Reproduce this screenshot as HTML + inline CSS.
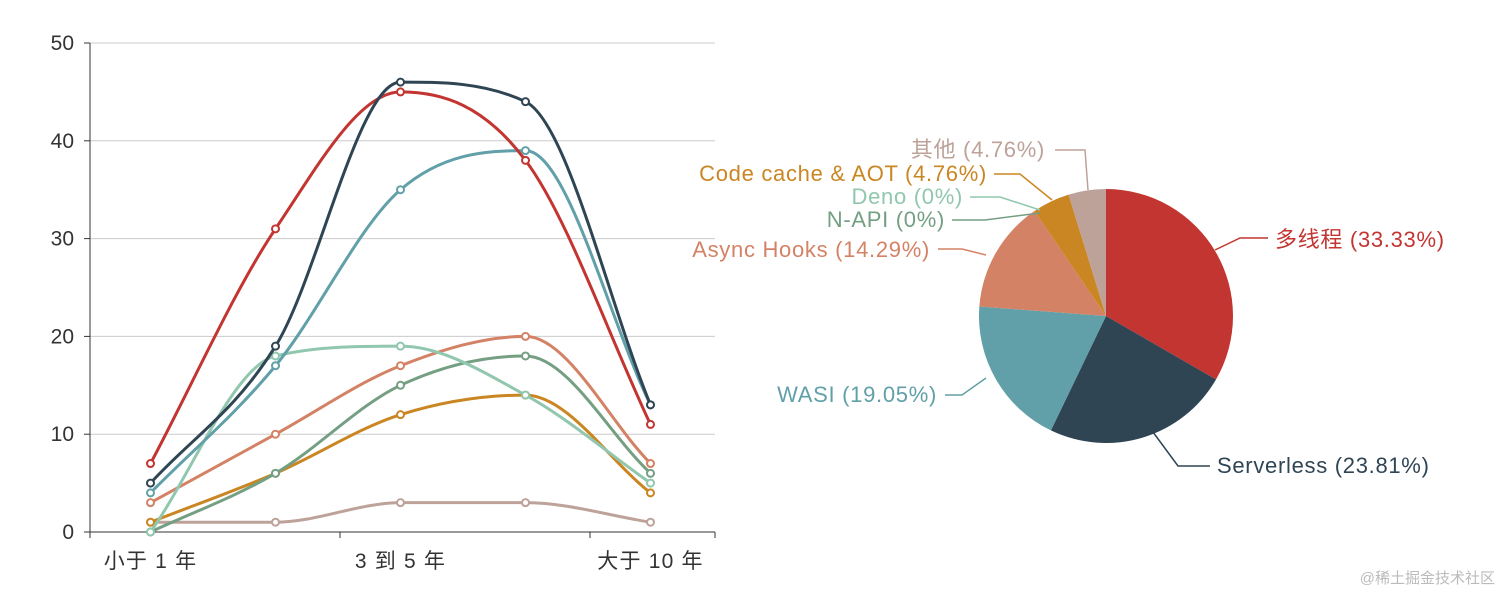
<!DOCTYPE html>
<html><head><meta charset="utf-8">
<style>
body{margin:0;background:#fff;width:1512px;height:605px;overflow:hidden;font-family:"Liberation Sans","Noto Sans CJK SC",sans-serif}
svg text{font-family:"Liberation Sans","Noto Sans CJK SC",sans-serif}
</style></head>
<body>
<svg id="c" width="1512" height="605"></svg>
<script>
const categories=["小于 1 年","1 到 3 年","3 到 5 年","5 到 10 年","大于 10 年"];
const yTicks=[0,10,20,30,40,50];
const s1=[7,31,45,38,11];
const s2=[5,19,46,44,13];
const s3=[4,17,35,39,13];
const s4=[0,18,19,14,5];
const s5=[3,10,17,20,7];
const s6=[0,6,15,18,6];
const s7=[1,6,12,14,4];
const s8=[1,1,3,3,1];
const pieNames=["多线程","Serverless","WASI","Async Hooks","N-API","Deno","Code cache & AOT","其他"];
const pieValues=[33.33,23.81,19.05,14.29,0,0,4.76,4.76];
const colors=["#c23531","#2f4554","#61a0a8","#d48265","#749f83","#91c7ae","#ca8622","#bda29a"];
const lineColors=["#c23531","#2f4554","#61a0a8","#91c7ae","#d48265","#749f83","#ca8622","#bda29a"];
const NS="http://www.w3.org/2000/svg";
const svg=document.getElementById('c');
function el(t,a,p){const e=document.createElementNS(NS,t);for(const k in a)e.setAttribute(k,a[k]);(p||svg).appendChild(e);return e;}
const x0=90,x1=715,y0=532,y1=43;
const xs=i=>x0+(x1-x0)/categories.length*(i+0.5)-2;
const ys=v=>y0-(y0-y1)*v/50;
yTicks.forEach(t=>{
 if(t>0){const g=el('line',{x1:x0,x2:x1,y1:ys(t),y2:ys(t),stroke:'#ccc','stroke-width':1});}
 const tk=el('line',{x1:x0-6,x2:x0,y1:ys(t),y2:ys(t),stroke:'#333'});
 
 const tx=el('text',{x:x0-16,y:ys(t)+7,'text-anchor':'end','font-size':21,fill:'#333'});tx.textContent=t;
 
});
const ya=el('line',{x1:x0,x2:x0,y1:y1,y2:y0,stroke:'#333'});
const xa=el('line',{x1:x0,x2:x1,y1:y0,y2:y0,stroke:'#333'});
for(let i=0;i<=categories.length;i+=2){const xx=x0+(x1-x0)/categories.length*i;
 const tk=el('line',{x1:xx,x2:xx,y1:y0,y2:y0+6,stroke:'#333'});}
el('line',{x1:x1,x2:x1,y1:y0,y2:y0+6,stroke:'#333'});
categories.forEach((c,i)=>{if(i%2)return;const t=el('text',{x:xs(i),y:y0+36,'text-anchor':'middle','font-size':21,'letter-spacing':1.2,fill:'#333'});t.textContent=c;
 });
const series=[s1,s2,s3,s4,s5,s6,s7,s8];
function smooth(p){const n=p.length;const dl=[],m=[];
 for(let i=0;i<n-1;i++)dl.push((p[i+1][1]-p[i][1])/(p[i+1][0]-p[i][0]));
 for(let i=0;i<n;i++){if(i==0)m.push(dl[0]);else if(i==n-1)m.push(dl[n-2]);else m.push(dl[i-1]*dl[i]<=0?0:(dl[i-1]+dl[i])/2);}
 for(let i=0;i<n-1;i++){if(dl[i]==0){m[i]=0;m[i+1]=0;continue;}const a=m[i]/dl[i],b=m[i+1]/dl[i];const s=a*a+b*b;if(s>9){const t=3/Math.sqrt(s);m[i]=t*a*dl[i];m[i+1]=t*b*dl[i];}}
 let d=`M${p[0][0]},${p[0][1]}`;
 for(let i=0;i<n-1;i++){const h=(p[i+1][0]-p[i][0])/3;
  d+=`C${p[i][0]+h},${p[i][1]+m[i]*h} ${p[i+1][0]-h},${p[i+1][1]-m[i+1]*h} ${p[i+1][0]},${p[i+1][1]}`;}
 return d;}
[7,6,5,4,3,2,0,1].forEach(si=>{const s=series[si];const pts=s.map((v,i)=>[xs(i),ys(v)]);
 const p=el('path',{d:smooth(pts),fill:'none',stroke:lineColors[si],'stroke-width':3});
 
 pts.forEach(q=>{const c=el('circle',{cx:q[0],cy:q[1],r:3.5,fill:'#fff',stroke:lineColors[si],'stroke-width':2});
  });});
const cx=1106,cy=316,R=127;const tot=pieValues.reduce((a,b)=>a+b,0);let a=-Math.PI/2;
pieValues.forEach((v,i)=>{const da=v/tot*Math.PI*2;if(da<=0)return;const a2=a+da;
 const d=`M${cx},${cy}L${cx+R*Math.cos(a)},${cy+R*Math.sin(a)}A${R},${R} 0 ${da>Math.PI?1:0} 1 ${cx+R*Math.cos(a2)},${cy+R*Math.sin(a2)}Z`;
 const p=el('path',{d,fill:colors[i]});a=a2;});
const labels=[
 [0,'1275','247','start','M1215,250L1240,238L1268,238'],
 [1,'1217','473','start','M1150,428L1178,466L1210,466'],
 [2,'937','402','end','M986,378L962,395L945,395'],
 [3,'930','257','end','M986,255L962,249L938,249'],
 [4,'945','227','end','M1040,213L985,220L952,220'],
 [5,'963','204','end','M1040,210L1000,197L970,197'],
 [6,'987','181','end','M1052,200L1020,174L994,174'],
 [7,'1045','157','end','M1088,190L1085,150L1055,150']];
labels.forEach(l=>{const i=l[0];const ln=el('path',{d:l[4],fill:'none',stroke:colors[i],'stroke-width':1.5});
 
 const t=el('text',{x:l[1],y:l[2],'text-anchor':l[3],'font-size':22,'letter-spacing':0.7,fill:colors[i]});
 t.textContent=pieNames[i]+' ('+(pieValues[i]===0?'0':pieValues[i].toFixed(2))+'%)';
 });
const w=el('text',{x:1495,y:583,'text-anchor':'end','font-size':15,fill:'#bbb'});w.textContent='@稀土掘金技术社区';

</script>
</body></html>
